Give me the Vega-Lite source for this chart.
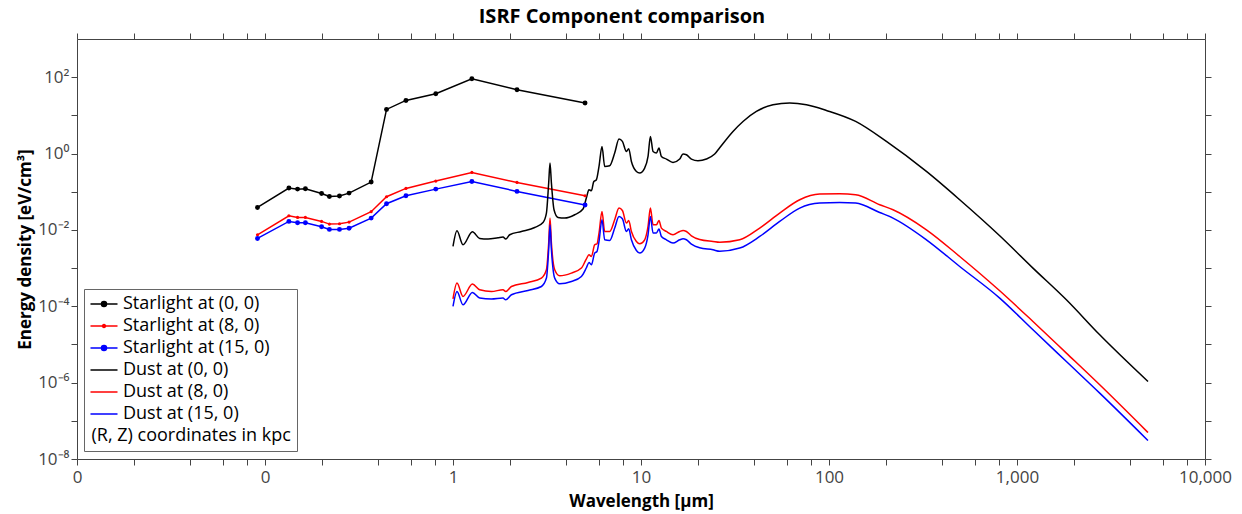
{
  "$schema": "https://vega.github.io/schema/vega-lite/v6.json",
  "width": 1128,
  "height": 420,
  "autosize": {"type": "none"},
  "padding": {"left": 77, "top": 39, "right": 37, "bottom": 55},
  "config": {"view": {"stroke": null}, "font": "Open Sans", "axis": {"grid": false},
    "legend": {"orient": "none", "legendX": 7, "legendY": 250, "title": null, "labelFontSize": 18, "labelColor": "black", "labelFont": "Open Sans", "labelLimit": 400,
      "symbolSize": 196, "symbolStrokeWidth": 1.5, "strokeColor": "#666", "fillColor": "white", "padding": 6, "labelOffset": 20, "rowPadding": 4}},
  "title": {"text": "ISRF Component comparison", "fontSize": 20, "fontWeight": "bold", "font": "Open Sans", "color": "black", "anchor": "middle", "frame": "group", "dx": -19, "offset": 6},
  "data": {"values": [
    {"s": "Starlight at (0, 0)", "w": 0.0912, "e": 0.0387},
    {"s": "Starlight at (0, 0)", "w": 0.134, "e": 0.125},
    {"s": "Starlight at (0, 0)", "w": 0.149, "e": 0.117},
    {"s": "Starlight at (0, 0)", "w": 0.164, "e": 0.12},
    {"s": "Starlight at (0, 0)", "w": 0.2, "e": 0.09},
    {"s": "Starlight at (0, 0)", "w": 0.22, "e": 0.075},
    {"s": "Starlight at (0, 0)", "w": 0.249, "e": 0.077},
    {"s": "Starlight at (0, 0)", "w": 0.28, "e": 0.092},
    {"s": "Starlight at (0, 0)", "w": 0.367, "e": 0.179},
    {"s": "Starlight at (0, 0)", "w": 0.443, "e": 14.3},
    {"s": "Starlight at (0, 0)", "w": 0.562, "e": 24.6},
    {"s": "Starlight at (0, 0)", "w": 0.81, "e": 36.9},
    {"s": "Starlight at (0, 0)", "w": 1.26, "e": 91},
    {"s": "Starlight at (0, 0)", "w": 2.19, "e": 47},
    {"s": "Starlight at (0, 0)", "w": 5.04, "e": 21},
    {"s": "Starlight at (8, 0)", "w": 0.0912, "e": 0.00746},
    {"s": "Starlight at (8, 0)", "w": 0.134, "e": 0.0235},
    {"s": "Starlight at (8, 0)", "w": 0.149, "e": 0.0212},
    {"s": "Starlight at (8, 0)", "w": 0.164, "e": 0.0212},
    {"s": "Starlight at (8, 0)", "w": 0.2, "e": 0.0167},
    {"s": "Starlight at (8, 0)", "w": 0.22, "e": 0.0142},
    {"s": "Starlight at (8, 0)", "w": 0.249, "e": 0.0145},
    {"s": "Starlight at (8, 0)", "w": 0.28, "e": 0.016},
    {"s": "Starlight at (8, 0)", "w": 0.367, "e": 0.03},
    {"s": "Starlight at (8, 0)", "w": 0.443, "e": 0.074},
    {"s": "Starlight at (8, 0)", "w": 0.562, "e": 0.122},
    {"s": "Starlight at (8, 0)", "w": 0.81, "e": 0.19},
    {"s": "Starlight at (8, 0)", "w": 1.26, "e": 0.32},
    {"s": "Starlight at (8, 0)", "w": 2.19, "e": 0.175},
    {"s": "Starlight at (8, 0)", "w": 5.04, "e": 0.0785},
    {"s": "Starlight at (15, 0)", "w": 0.0912, "e": 0.00597},
    {"s": "Starlight at (15, 0)", "w": 0.134, "e": 0.0167},
    {"s": "Starlight at (15, 0)", "w": 0.149, "e": 0.0154},
    {"s": "Starlight at (15, 0)", "w": 0.164, "e": 0.0154},
    {"s": "Starlight at (15, 0)", "w": 0.2, "e": 0.0121},
    {"s": "Starlight at (15, 0)", "w": 0.22, "e": 0.0103},
    {"s": "Starlight at (15, 0)", "w": 0.249, "e": 0.0103},
    {"s": "Starlight at (15, 0)", "w": 0.28, "e": 0.0111},
    {"s": "Starlight at (15, 0)", "w": 0.367, "e": 0.0204},
    {"s": "Starlight at (15, 0)", "w": 0.443, "e": 0.0484},
    {"s": "Starlight at (15, 0)", "w": 0.562, "e": 0.0785},
    {"s": "Starlight at (15, 0)", "w": 0.81, "e": 0.117},
    {"s": "Starlight at (15, 0)", "w": 1.26, "e": 0.186},
    {"s": "Starlight at (15, 0)", "w": 2.19, "e": 0.102},
    {"s": "Starlight at (15, 0)", "w": 5.04, "e": 0.0448},
    {"s": "Dust at (0, 0)", "w": 1.0, "e": 0.00368},
    {"s": "Dust at (0, 0)", "w": 1.05, "e": 0.0095},
    {"s": "Dust at (0, 0)", "w": 1.13, "e": 0.00408},
    {"s": "Dust at (0, 0)", "w": 1.268, "e": 0.00894},
    {"s": "Dust at (0, 0)", "w": 1.387, "e": 0.00597},
    {"s": "Dust at (0, 0)", "w": 1.536, "e": 0.00575},
    {"s": "Dust at (0, 0)", "w": 1.735, "e": 0.00622},
    {"s": "Dust at (0, 0)", "w": 1.845, "e": 0.00649},
    {"s": "Dust at (0, 0)", "w": 1.907, "e": 0.00575},
    {"s": "Dust at (0, 0)", "w": 2.003, "e": 0.00746},
    {"s": "Dust at (0, 0)", "w": 2.311, "e": 0.0091},
    {"s": "Dust at (0, 0)", "w": 2.72, "e": 0.01158},
    {"s": "Dust at (0, 0)", "w": 3.011, "e": 0.01566},
    {"s": "Dust at (0, 0)", "w": 3.14, "e": 0.0276},
    {"s": "Dust at (0, 0)", "w": 3.228, "e": 0.1687},
    {"s": "Dust at (0, 0)", "w": 3.281, "e": 0.5638},
    {"s": "Dust at (0, 0)", "w": 3.338, "e": 0.1687},
    {"s": "Dust at (0, 0)", "w": 3.446, "e": 0.0337},
    {"s": "Dust at (0, 0)", "w": 3.618, "e": 0.02118},
    {"s": "Dust at (0, 0)", "w": 3.928, "e": 0.02043},
    {"s": "Dust at (0, 0)", "w": 4.44, "e": 0.02492},
    {"s": "Dust at (0, 0)", "w": 4.915, "e": 0.03516},
    {"s": "Dust at (0, 0)", "w": 5.124, "e": 0.0695},
    {"s": "Dust at (0, 0)", "w": 5.289, "e": 0.1126},
    {"s": "Dust at (0, 0)", "w": 5.448, "e": 0.106},
    {"s": "Dust at (0, 0)", "w": 5.603, "e": 0.1825},
    {"s": "Dust at (0, 0)", "w": 5.791, "e": 0.2059},
    {"s": "Dust at (0, 0)", "w": 5.979, "e": 0.4592},
    {"s": "Dust at (0, 0)", "w": 6.203, "e": 1.535},
    {"s": "Dust at (0, 0)", "w": 6.411, "e": 0.4592},
    {"s": "Dust at (0, 0)", "w": 6.816, "e": 0.479},
    {"s": "Dust at (0, 0)", "w": 7.245, "e": 1.031},
    {"s": "Dust at (0, 0)", "w": 7.638, "e": 2.399},
    {"s": "Dust at (0, 0)", "w": 7.963, "e": 2.075},
    {"s": "Dust at (0, 0)", "w": 8.362, "e": 1.135},
    {"s": "Dust at (0, 0)", "w": 8.602, "e": 1.336},
    {"s": "Dust at (0, 0)", "w": 8.891, "e": 0.621},
    {"s": "Dust at (0, 0)", "w": 9.452, "e": 0.34},
    {"s": "Dust at (0, 0)", "w": 9.842, "e": 0.3084},
    {"s": "Dust at (0, 0)", "w": 10.46, "e": 0.4169},
    {"s": "Dust at (0, 0)", "w": 10.9, "e": 0.8395},
    {"s": "Dust at (0, 0)", "w": 11.22, "e": 2.806},
    {"s": "Dust at (0, 0)", "w": 11.59, "e": 1.135},
    {"s": "Dust at (0, 0)", "w": 12.08, "e": 1.031},
    {"s": "Dust at (0, 0)", "w": 12.46, "e": 1.393},
    {"s": "Dust at (0, 0)", "w": 12.84, "e": 0.8395},
    {"s": "Dust at (0, 0)", "w": 13.65, "e": 0.7177},
    {"s": "Dust at (0, 0)", "w": 14.8, "e": 0.5845},
    {"s": "Dust at (0, 0)", "w": 16.07, "e": 0.7177},
    {"s": "Dust at (0, 0)", "w": 16.73, "e": 0.97},
    {"s": "Dust at (0, 0)", "w": 17.44, "e": 0.93},
    {"s": "Dust at (0, 0)", "w": 18.54, "e": 0.7177},
    {"s": "Dust at (0, 0)", "w": 20.1, "e": 0.6477},
    {"s": "Dust at (0, 0)", "w": 22.28, "e": 0.7177},
    {"s": "Dust at (0, 0)", "w": 24.66, "e": 0.97},
    {"s": "Dust at (0, 0)", "w": 26.22, "e": 1.419},
    {"s": "Dust at (0, 0)", "w": 30.86, "e": 3.793},
    {"s": "Dust at (0, 0)", "w": 34.88, "e": 6.934},
    {"s": "Dust at (0, 0)", "w": 41.1, "e": 12.68},
    {"s": "Dust at (0, 0)", "w": 50.37, "e": 18.99},
    {"s": "Dust at (0, 0)", "w": 61.8, "e": 21.04},
    {"s": "Dust at (0, 0)", "w": 75.84, "e": 18.99},
    {"s": "Dust at (0, 0)", "w": 96.87, "e": 13.46},
    {"s": "Dust at (0, 0)", "w": 138.6, "e": 6.934},
    {"s": "Dust at (0, 0)", "w": 202, "e": 2.075},
    {"s": "Dust at (0, 0)", "w": 329.8, "e": 0.34},
    {"s": "Dust at (0, 0)", "w": 495.7, "e": 0.0616},
    {"s": "Dust at (0, 0)", "w": 809.1, "e": 0.00702},
    {"s": "Dust at (0, 0)", "w": 1216, "e": 0.001},
    {"s": "Dust at (0, 0)", "w": 1831, "e": 0.0001479},
    {"s": "Dust at (0, 0)", "w": 2754, "e": 0.00001791},
    {"s": "Dust at (0, 0)", "w": 4975, "e": 0.00000107},
    {"s": "Dust at (8, 0)", "w": 1.0, "e": 0.000157},
    {"s": "Dust at (8, 0)", "w": 1.05, "e": 0.0004048},
    {"s": "Dust at (8, 0)", "w": 1.13, "e": 0.0001805},
    {"s": "Dust at (8, 0)", "w": 1.268, "e": 0.0003811},
    {"s": "Dust at (8, 0)", "w": 1.387, "e": 0.0002702},
    {"s": "Dust at (8, 0)", "w": 1.601, "e": 0.0002438},
    {"s": "Dust at (8, 0)", "w": 1.845, "e": 0.0002702},
    {"s": "Dust at (8, 0)", "w": 1.907, "e": 0.0002438},
    {"s": "Dust at (8, 0)", "w": 2.045, "e": 0.0003298},
    {"s": "Dust at (8, 0)", "w": 2.506, "e": 0.0004198},
    {"s": "Dust at (8, 0)", "w": 2.953, "e": 0.0005473},
    {"s": "Dust at (8, 0)", "w": 3.14, "e": 0.000903},
    {"s": "Dust at (8, 0)", "w": 3.228, "e": 0.00452},
    {"s": "Dust at (8, 0)", "w": 3.281, "e": 0.02043},
    {"s": "Dust at (8, 0)", "w": 3.338, "e": 0.00452},
    {"s": "Dust at (8, 0)", "w": 3.475, "e": 0.000903},
    {"s": "Dust at (8, 0)", "w": 3.694, "e": 0.000629},
    {"s": "Dust at (8, 0)", "w": 4.264, "e": 0.00074},
    {"s": "Dust at (8, 0)", "w": 4.82, "e": 0.001},
    {"s": "Dust at (8, 0)", "w": 5.124, "e": 0.001754},
    {"s": "Dust at (8, 0)", "w": 5.289, "e": 0.002232},
    {"s": "Dust at (8, 0)", "w": 5.448, "e": 0.002015},
    {"s": "Dust at (8, 0)", "w": 5.671, "e": 0.00408},
    {"s": "Dust at (8, 0)", "w": 5.834, "e": 0.004333},
    {"s": "Dust at (8, 0)", "w": 5.979, "e": 0.00827},
    {"s": "Dust at (8, 0)", "w": 6.203, "e": 0.0304},
    {"s": "Dust at (8, 0)", "w": 6.411, "e": 0.0091},
    {"s": "Dust at (8, 0)", "w": 6.816, "e": 0.0091},
    {"s": "Dust at (8, 0)", "w": 7.245, "e": 0.01844},
    {"s": "Dust at (8, 0)", "w": 7.638, "e": 0.03734},
    {"s": "Dust at (8, 0)", "w": 7.963, "e": 0.0323},
    {"s": "Dust at (8, 0)", "w": 8.362, "e": 0.01511},
    {"s": "Dust at (8, 0)", "w": 8.602, "e": 0.01768},
    {"s": "Dust at (8, 0)", "w": 8.891, "e": 0.0091},
    {"s": "Dust at (8, 0)", "w": 9.452, "e": 0.00498},
    {"s": "Dust at (8, 0)", "w": 9.842, "e": 0.004333},
    {"s": "Dust at (8, 0)", "w": 10.46, "e": 0.005515},
    {"s": "Dust at (8, 0)", "w": 10.9, "e": 0.01231},
    {"s": "Dust at (8, 0)", "w": 11.22, "e": 0.03734},
    {"s": "Dust at (8, 0)", "w": 11.59, "e": 0.01364},
    {"s": "Dust at (8, 0)", "w": 12.08, "e": 0.01364},
    {"s": "Dust at (8, 0)", "w": 12.46, "e": 0.01768},
    {"s": "Dust at (8, 0)", "w": 12.84, "e": 0.01117},
    {"s": "Dust at (8, 0)", "w": 13.65, "e": 0.0091},
    {"s": "Dust at (8, 0)", "w": 14.8, "e": 0.00746},
    {"s": "Dust at (8, 0)", "w": 16.07, "e": 0.0091},
    {"s": "Dust at (8, 0)", "w": 16.73, "e": 0.00967},
    {"s": "Dust at (8, 0)", "w": 17.44, "e": 0.0091},
    {"s": "Dust at (8, 0)", "w": 18.54, "e": 0.00702},
    {"s": "Dust at (8, 0)", "w": 20.52, "e": 0.005616},
    {"s": "Dust at (8, 0)", "w": 24.15, "e": 0.00498},
    {"s": "Dust at (8, 0)", "w": 26.22, "e": 0.004745},
    {"s": "Dust at (8, 0)", "w": 33.5, "e": 0.005515},
    {"s": "Dust at (8, 0)", "w": 42.8, "e": 0.01117},
    {"s": "Dust at (8, 0)", "w": 54.67, "e": 0.0276},
    {"s": "Dust at (8, 0)", "w": 69.85, "e": 0.0616},
    {"s": "Dust at (8, 0)", "w": 89.23, "e": 0.0869},
    {"s": "Dust at (8, 0)", "w": 114.0, "e": 0.0885},
    {"s": "Dust at (8, 0)", "w": 138.6, "e": 0.0833},
    {"s": "Dust at (8, 0)", "w": 186.1, "e": 0.0456},
    {"s": "Dust at (8, 0)", "w": 219.0, "e": 0.0337},
    {"s": "Dust at (8, 0)", "w": 329.8, "e": 0.01008},
    {"s": "Dust at (8, 0)", "w": 495.7, "e": 0.002015},
    {"s": "Dust at (8, 0)", "w": 809.1, "e": 0.0002545},
    {"s": "Dust at (8, 0)", "w": 1216, "e": 0.00003994},
    {"s": "Dust at (8, 0)", "w": 1831, "e": 0.000005935},
    {"s": "Dust at (8, 0)", "w": 2754, "e": 0.000000877},
    {"s": "Dust at (8, 0)", "w": 4975, "e": 0.0000000493},
    {"s": "Dust at (15, 0)", "w": 1.0, "e": 0.0000987},
    {"s": "Dust at (15, 0)", "w": 1.05, "e": 0.0002438},
    {"s": "Dust at (15, 0)", "w": 1.13, "e": 0.0001093},
    {"s": "Dust at (15, 0)", "w": 1.268, "e": 0.0002296},
    {"s": "Dust at (15, 0)", "w": 1.387, "e": 0.0001638},
    {"s": "Dust at (15, 0)", "w": 1.601, "e": 0.0001542},
    {"s": "Dust at (15, 0)", "w": 1.845, "e": 0.0001638},
    {"s": "Dust at (15, 0)", "w": 1.907, "e": 0.0001478},
    {"s": "Dust at (15, 0)", "w": 2.045, "e": 0.0001999},
    {"s": "Dust at (15, 0)", "w": 2.506, "e": 0.0002591},
    {"s": "Dust at (15, 0)", "w": 2.953, "e": 0.0003298},
    {"s": "Dust at (15, 0)", "w": 3.14, "e": 0.0005473},
    {"s": "Dust at (15, 0)", "w": 3.228, "e": 0.003018},
    {"s": "Dust at (15, 0)", "w": 3.281, "e": 0.01364},
    {"s": "Dust at (15, 0)", "w": 3.338, "e": 0.003018},
    {"s": "Dust at (15, 0)", "w": 3.475, "e": 0.0005473},
    {"s": "Dust at (15, 0)", "w": 3.694, "e": 0.000388},
    {"s": "Dust at (15, 0)", "w": 4.264, "e": 0.0004459},
    {"s": "Dust at (15, 0)", "w": 4.82, "e": 0.000603},
    {"s": "Dust at (15, 0)", "w": 5.124, "e": 0.001019},
    {"s": "Dust at (15, 0)", "w": 5.289, "e": 0.001403},
    {"s": "Dust at (15, 0)", "w": 5.448, "e": 0.001221},
    {"s": "Dust at (15, 0)", "w": 5.671, "e": 0.002473},
    {"s": "Dust at (15, 0)", "w": 5.834, "e": 0.002723},
    {"s": "Dust at (15, 0)", "w": 5.979, "e": 0.00498},
    {"s": "Dust at (15, 0)", "w": 6.203, "e": 0.01844},
    {"s": "Dust at (15, 0)", "w": 6.411, "e": 0.005515},
    {"s": "Dust at (15, 0)", "w": 6.816, "e": 0.00529},
    {"s": "Dust at (15, 0)", "w": 7.245, "e": 0.01117},
    {"s": "Dust at (15, 0)", "w": 7.638, "e": 0.0225},
    {"s": "Dust at (15, 0)", "w": 7.963, "e": 0.01958},
    {"s": "Dust at (15, 0)", "w": 8.362, "e": 0.0091},
    {"s": "Dust at (15, 0)", "w": 8.602, "e": 0.01071},
    {"s": "Dust at (15, 0)", "w": 8.891, "e": 0.005515},
    {"s": "Dust at (15, 0)", "w": 9.452, "e": 0.002893},
    {"s": "Dust at (15, 0)", "w": 9.842, "e": 0.002473},
    {"s": "Dust at (15, 0)", "w": 10.46, "e": 0.003343},
    {"s": "Dust at (15, 0)", "w": 10.9, "e": 0.00746},
    {"s": "Dust at (15, 0)", "w": 11.22, "e": 0.0225},
    {"s": "Dust at (15, 0)", "w": 11.59, "e": 0.00827},
    {"s": "Dust at (15, 0)", "w": 12.08, "e": 0.00827},
    {"s": "Dust at (15, 0)", "w": 12.46, "e": 0.01052},
    {"s": "Dust at (15, 0)", "w": 12.84, "e": 0.00673},
    {"s": "Dust at (15, 0)", "w": 13.65, "e": 0.005515},
    {"s": "Dust at (15, 0)", "w": 14.8, "e": 0.00452},
    {"s": "Dust at (15, 0)", "w": 16.07, "e": 0.005515},
    {"s": "Dust at (15, 0)", "w": 16.73, "e": 0.00586},
    {"s": "Dust at (15, 0)", "w": 17.44, "e": 0.005515},
    {"s": "Dust at (15, 0)", "w": 18.54, "e": 0.004256},
    {"s": "Dust at (15, 0)", "w": 20.52, "e": 0.003404},
    {"s": "Dust at (15, 0)", "w": 24.15, "e": 0.003018},
    {"s": "Dust at (15, 0)", "w": 26.22, "e": 0.002756},
    {"s": "Dust at (15, 0)", "w": 33.5, "e": 0.003343},
    {"s": "Dust at (15, 0)", "w": 42.8, "e": 0.00673},
    {"s": "Dust at (15, 0)", "w": 54.67, "e": 0.01664},
    {"s": "Dust at (15, 0)", "w": 69.85, "e": 0.03734},
    {"s": "Dust at (15, 0)", "w": 89.23, "e": 0.05048},
    {"s": "Dust at (15, 0)", "w": 114.0, "e": 0.05234},
    {"s": "Dust at (15, 0)", "w": 138.6, "e": 0.05048},
    {"s": "Dust at (15, 0)", "w": 186.1, "e": 0.02862},
    {"s": "Dust at (15, 0)", "w": 219.0, "e": 0.02043},
    {"s": "Dust at (15, 0)", "w": 329.8, "e": 0.005515},
    {"s": "Dust at (15, 0)", "w": 495.7, "e": 0.001102},
    {"s": "Dust at (15, 0)", "w": 809.1, "e": 0.0001638},
    {"s": "Dust at (15, 0)", "w": 1216, "e": 0.0000242},
    {"s": "Dust at (15, 0)", "w": 1831, "e": 0.000003575},
    {"s": "Dust at (15, 0)", "w": 2754, "e": 0.0000005315},
    {"s": "Dust at (15, 0)", "w": 4975, "e": 0.00000003045}
  ]},
  "layer": [
    {
      "transform": [{"filter": "indexof(datum.s, 'Starlight') == 0"}],
      "mark": {"type": "line", "strokeWidth": 1.5},
      "encoding": {
        "x": {"field": "w", "type": "quantitative", "scale": {"type": "log", "domain": [0.01, 10000], "nice": false},
          "axis": {"orient": "bottom", "title": "Wavelength [μm]", "titleFontSize": 17, "titleFontWeight": "bold", "titleColor": "black", "titlePadding": 8,
            "values": [0.01,0.02,0.04,0.06,0.08,0.1,0.2,0.4,0.6,0.8,1,2,4,6,8,10,20,40,60,80,100,200,400,600,800,1000,2000,4000,6000,8000,10000],
            "labelExpr": "abs(log(datum.value)/LN10 - round(log(datum.value)/LN10)) < 0.001 ? format(datum.value, ',.0f') : ''",
            "labelFontSize": 17, "labelColor": "#444", "labelPadding": 4, "labelFlush": false, "labelOverlap": false,
            "tickSize": 6, "tickColor": "#444", "domainColor": "#444", "grid": false,
            "encode": {"ticks": {"update": {"y2": {"signal": "abs(log(datum.value)/LN10 - round(log(datum.value)/LN10)) < 0.001 ? 6 : 4"}}}}}},
        "y": {"field": "e", "type": "quantitative", "scale": {"type": "log", "domain": [1e-8, 1000], "nice": false},
          "axis": {"orient": "left", "title": "Energy density [eV/cm³]", "titleFontSize": 17, "titleFontWeight": "bold", "titleColor": "black", "titlePadding": 3,
            "values": [1e-8,1e-7,1e-6,1e-5,1e-4,1e-3,1e-2,1e-1,1,10,100],
            "labelExpr": "round(log(datum.value)/LN10) == 2 ? '10²' : round(log(datum.value)/LN10) == 0 ? '10⁰' : round(log(datum.value)/LN10) == -2 ? '10⁻²' : round(log(datum.value)/LN10) == -4 ? '10⁻⁴' : round(log(datum.value)/LN10) == -6 ? '10⁻⁶' : round(log(datum.value)/LN10) == -8 ? '10⁻⁸' : ''",
            "labelFontSize": 17, "labelColor": "#444", "labelPadding": 2, "labelFlush": false, "labelOverlap": false,
            "tickSize": 6, "tickColor": "#444", "domainColor": "#444", "grid": false,
            "encode": {"ticks": {"update": {"x2": {"signal": "round(log(datum.value)/LN10) % 2 == 0 ? -6 : -4"}}}}}},
        "color": {"field": "s", "type": "nominal",
          "scale": {"domain": ["Starlight at (0, 0)", "Starlight at (8, 0)", "Starlight at (15, 0)", "Dust at (0, 0)", "Dust at (8, 0)", "Dust at (15, 0)", "(R, Z) coordinates in kpc"],
                    "range": ["black", "red", "blue", "black", "red", "blue", "rgba(0,0,0,0)"]},
          "legend": {
            "encode": {
              "symbols": {"update": {
                "x": {"value": 14},
                "shape": {"signal": "indexof(datum.value, 'Starlight') == 0 ? (datum.value == 'Starlight at (8, 0)' ? 'M-1.93,0H1.93M-0.22,0A0.22,0.22 0 1,1 0.22,0A0.22,0.22 0 1,1 -0.22,0Z' : 'M-1.93,0H1.93M-0.36,0A0.36,0.36 0 1,1 0.36,0A0.36,0.36 0 1,1 -0.36,0Z') : 'M-1.93,0H1.93'"},
                "fill": {"scale": "color", "field": "value"},
                "stroke": {"scale": "color", "field": "value"},
                "opacity": {"value": 1}}},
              "labels": {"update": {"x": {"signal": "datum.value == '(R, Z) coordinates in kpc' ? 1.5 : 33"}}}}}}
      }
    },
    {
      "transform": [{"filter": "indexof(datum.s, 'Dust') == 0"}],
      "mark": {"type": "line", "strokeWidth": 1.5, "interpolate": "monotone"},
      "encoding": {
        "x": {"field": "w", "type": "quantitative", "axis": null},
        "y": {"field": "e", "type": "quantitative", "axis": null},
        "color": {"field": "s", "type": "nominal",
          "legend": {
            "encode": {
              "symbols": {"update": {
                "x": {"value": 14},
                "shape": {"signal": "indexof(datum.value, 'Starlight') == 0 ? (datum.value == 'Starlight at (8, 0)' ? 'M-1.93,0H1.93M-0.22,0A0.22,0.22 0 1,1 0.22,0A0.22,0.22 0 1,1 -0.22,0Z' : 'M-1.93,0H1.93M-0.36,0A0.36,0.36 0 1,1 0.36,0A0.36,0.36 0 1,1 -0.36,0Z') : 'M-1.93,0H1.93'"},
                "fill": {"scale": "color", "field": "value"},
                "stroke": {"scale": "color", "field": "value"},
                "opacity": {"value": 1}}},
              "labels": {"update": {"x": {"signal": "datum.value == '(R, Z) coordinates in kpc' ? 1.5 : 33"}}}}}}
      }
    },
    {
      "transform": [{"filter": "indexof(datum.s, 'Starlight') == 0"}],
      "mark": {"type": "point", "filled": true, "opacity": 1},
      "encoding": {
        "x": {"field": "w", "type": "quantitative",
          "axis": {"orient": "top", "title": null, "labels": false, "tickSize": 6, "tickColor": "#444", "domainColor": "#444", "grid": false,
            "values": [0.01,0.02,0.04,0.06,0.08,0.1,0.2,0.4,0.6,0.8,1,2,4,6,8,10,20,40,60,80,100,200,400,600,800,1000,2000,4000,6000,8000,10000],
            "encode": {"ticks": {"update": {"y2": {"signal": "abs(log(datum.value)/LN10 - round(log(datum.value)/LN10)) < 0.001 ? -6 : -4"}}}}}},
        "y": {"field": "e", "type": "quantitative",
          "axis": {"orient": "right", "title": null, "labels": false, "tickSize": 6, "tickColor": "#444", "domainColor": "#444", "grid": false,
            "values": [1e-8,1e-7,1e-6,1e-5,1e-4,1e-3,1e-2,1e-1,1,10,100],
            "encode": {"ticks": {"update": {"x2": {"signal": "round(log(datum.value)/LN10) % 2 == 0 ? 6 : 4"}}}}}},
        "color": {"field": "s", "type": "nominal",
          "legend": {
            "encode": {
              "symbols": {"update": {
                "x": {"value": 14},
                "shape": {"signal": "indexof(datum.value, 'Starlight') == 0 ? (datum.value == 'Starlight at (8, 0)' ? 'M-1.93,0H1.93M-0.22,0A0.22,0.22 0 1,1 0.22,0A0.22,0.22 0 1,1 -0.22,0Z' : 'M-1.93,0H1.93M-0.36,0A0.36,0.36 0 1,1 0.36,0A0.36,0.36 0 1,1 -0.36,0Z') : 'M-1.93,0H1.93'"},
                "fill": {"scale": "color", "field": "value"},
                "stroke": {"scale": "color", "field": "value"},
                "opacity": {"value": 1}}},
              "labels": {"update": {"x": {"signal": "datum.value == '(R, Z) coordinates in kpc' ? 1.5 : 33"}}}}}},
        "size": {"condition": {"test": "datum.s == 'Starlight at (8, 0)'", "value": 10}, "value": 24}
      }
    }
  ],
  "resolve": {"axis": {"x": "independent", "y": "independent"}}
}
